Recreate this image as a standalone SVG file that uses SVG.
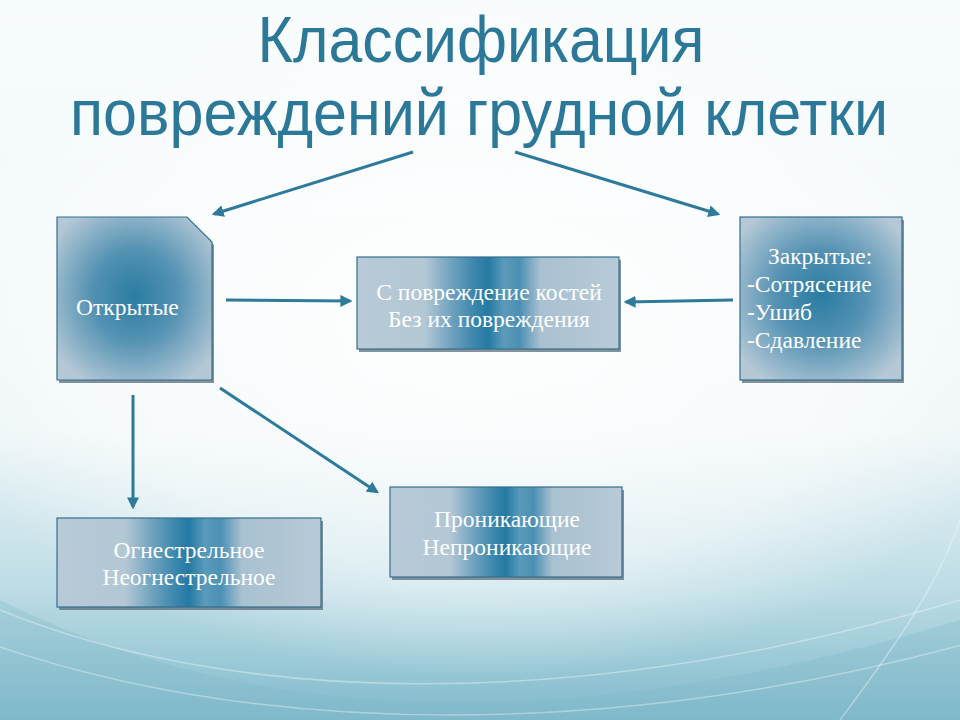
<svg xmlns="http://www.w3.org/2000/svg" width="960" height="720" viewBox="0 0 960 720">
<defs>
  <linearGradient id="bg" x1="0" y1="0" x2="0" y2="1">
    <stop offset="0" stop-color="#f8fcfd"/>
    <stop offset="0.6" stop-color="#eef6f8"/>
    <stop offset="0.82" stop-color="#bcdce5"/>
    <stop offset="1" stop-color="#80bacb"/>
  </linearGradient>
  <radialGradient id="glow" cx="480" cy="330" r="560" gradientUnits="userSpaceOnUse" gradientTransform="translate(480 330) scale(1 0.62) translate(-480 -330)">
    <stop offset="0" stop-color="#ffffff" stop-opacity="0.9"/>
    <stop offset="0.7" stop-color="#ffffff" stop-opacity="0.5"/>
    <stop offset="1" stop-color="#ffffff" stop-opacity="0"/>
  </radialGradient>
  <radialGradient id="sq" cx="0.5" cy="0.48" r="0.62">
    <stop offset="0" stop-color="#2a7ca3"/>
    <stop offset="0.45" stop-color="#5492b3"/>
    <stop offset="1" stop-color="#b4c8d6"/>
  </radialGradient>
  <linearGradient id="hz" x1="0" y1="0" x2="1" y2="0">
    <stop offset="0" stop-color="#b8cad7"/>
    <stop offset="0.26" stop-color="#b3c7d5"/>
    <stop offset="0.36" stop-color="#6fa2bf"/>
    <stop offset="0.45" stop-color="#3a86ad"/>
    <stop offset="0.5" stop-color="#247aa3"/>
    <stop offset="0.56" stop-color="#5b9aba"/>
    <stop offset="0.62" stop-color="#4a90b4"/>
    <stop offset="0.7" stop-color="#a9c1d1"/>
    <stop offset="1" stop-color="#b8cad7"/>
  </linearGradient>
  <marker id="ah" viewBox="0 0 10 10" refX="8" refY="5" markerWidth="4" markerHeight="4" orient="auto" markerUnits="strokeWidth">
    <path d="M0,0 L10,5 L0,10 z" fill="#2e7a9a"/>
  </marker>
  <style>
    .title{font-family:"Liberation Sans","Arial",sans-serif;font-size:65px;fill:#2b7898;}
    .lbl{font-family:"Liberation Serif","Times New Roman",serif;font-size:23.5px;fill:#ffffff;}
    .mid{text-anchor:middle;}
    .box{stroke:#356f8b;stroke-width:1.2;}
    .shadow{fill:#5b6f7c;opacity:0.75;}
    .conn{stroke:#2e7a9a;stroke-width:3;fill:none;marker-end:url(#ah);}
    .wave{fill:none;stroke:#ffffff;stroke-opacity:0.35;stroke-width:1.5;}
  </style>
</defs>

<rect width="960" height="720" fill="url(#bg)"/>
<rect width="960" height="720" fill="url(#glow)"/>
<path d="M0,600 C200,700 500,760 960,620 L960,720 L0,720 z" fill="#7db7c7" opacity="0.3"/>
<path class="wave" d="M0,610 C220,700 560,720 960,600"/>
<path class="wave" d="M-20,640 C260,740 620,740 980,640"/>
<path class="wave" d="M840,720 C900,640 940,580 960,520"/>

<g id="title">
  <text class="title mid" x="481" y="62" textLength="447" lengthAdjust="spacingAndGlyphs">Классификация</text>
  <text class="title mid" x="479" y="135" textLength="818" lengthAdjust="spacingAndGlyphs">повреждений грудной клетки</text>
</g>

<g id="connectors">
  <line class="conn" x1="413" y1="152" x2="214" y2="214"/>
  <line class="conn" x1="515" y1="152" x2="718" y2="214"/>
  <line class="conn" x1="226" y1="300" x2="350" y2="301"/>
  <line class="conn" x1="733" y1="300" x2="626" y2="302"/>
  <line class="conn" x1="133" y1="395" x2="133" y2="507"/>
  <line class="conn" x1="220" y1="388" x2="377" y2="492"/>
</g>

<g id="open">
  <path class="shadow" d="M59,220 L188,220 L214,245 L214,383 L59,383 z"/>
  <path class="box" d="M57,217 L187,217 L212,242 L212,380 L57,380 z" fill="url(#sq)"/>
  <text class="lbl" x="76" y="315">Открытые</text>
</g>

<g id="bones">
  <rect class="shadow" x="359" y="260" width="262" height="92"/>
  <rect class="box" x="357" y="257" width="262" height="92" fill="url(#hz)"/>
  <text class="lbl mid" x="489" y="300">С повреждение костей</text>
  <text class="lbl mid" x="489" y="327">Без их повреждения</text>
</g>

<g id="closed">
  <rect class="shadow" x="742" y="220" width="162" height="163"/>
  <rect class="box" x="740" y="217" width="162" height="163" fill="url(#sq)"/>
  <text class="lbl" x="768" y="264">Закрытые:</text>
  <text class="lbl" x="747" y="292">-Сотрясение</text>
  <text class="lbl" x="747" y="320">-Ушиб</text>
  <text class="lbl" x="747" y="348">-Сдавление</text>
</g>

<g id="gunshot">
  <rect class="shadow" x="59" y="521" width="264" height="89"/>
  <rect class="box" x="57" y="518" width="264" height="89" fill="url(#hz)"/>
  <text class="lbl mid" x="189" y="558">Огнестрельное</text>
  <text class="lbl mid" x="189" y="585">Неогнестрельное</text>
</g>

<g id="penetrating">
  <rect class="shadow" x="392" y="490" width="232" height="90"/>
  <rect class="box" x="390" y="487" width="232" height="90" fill="url(#hz)"/>
  <text class="lbl mid" x="507" y="527">Проникающие</text>
  <text class="lbl mid" x="507" y="555">Непроникающие</text>
</g>
</svg>
